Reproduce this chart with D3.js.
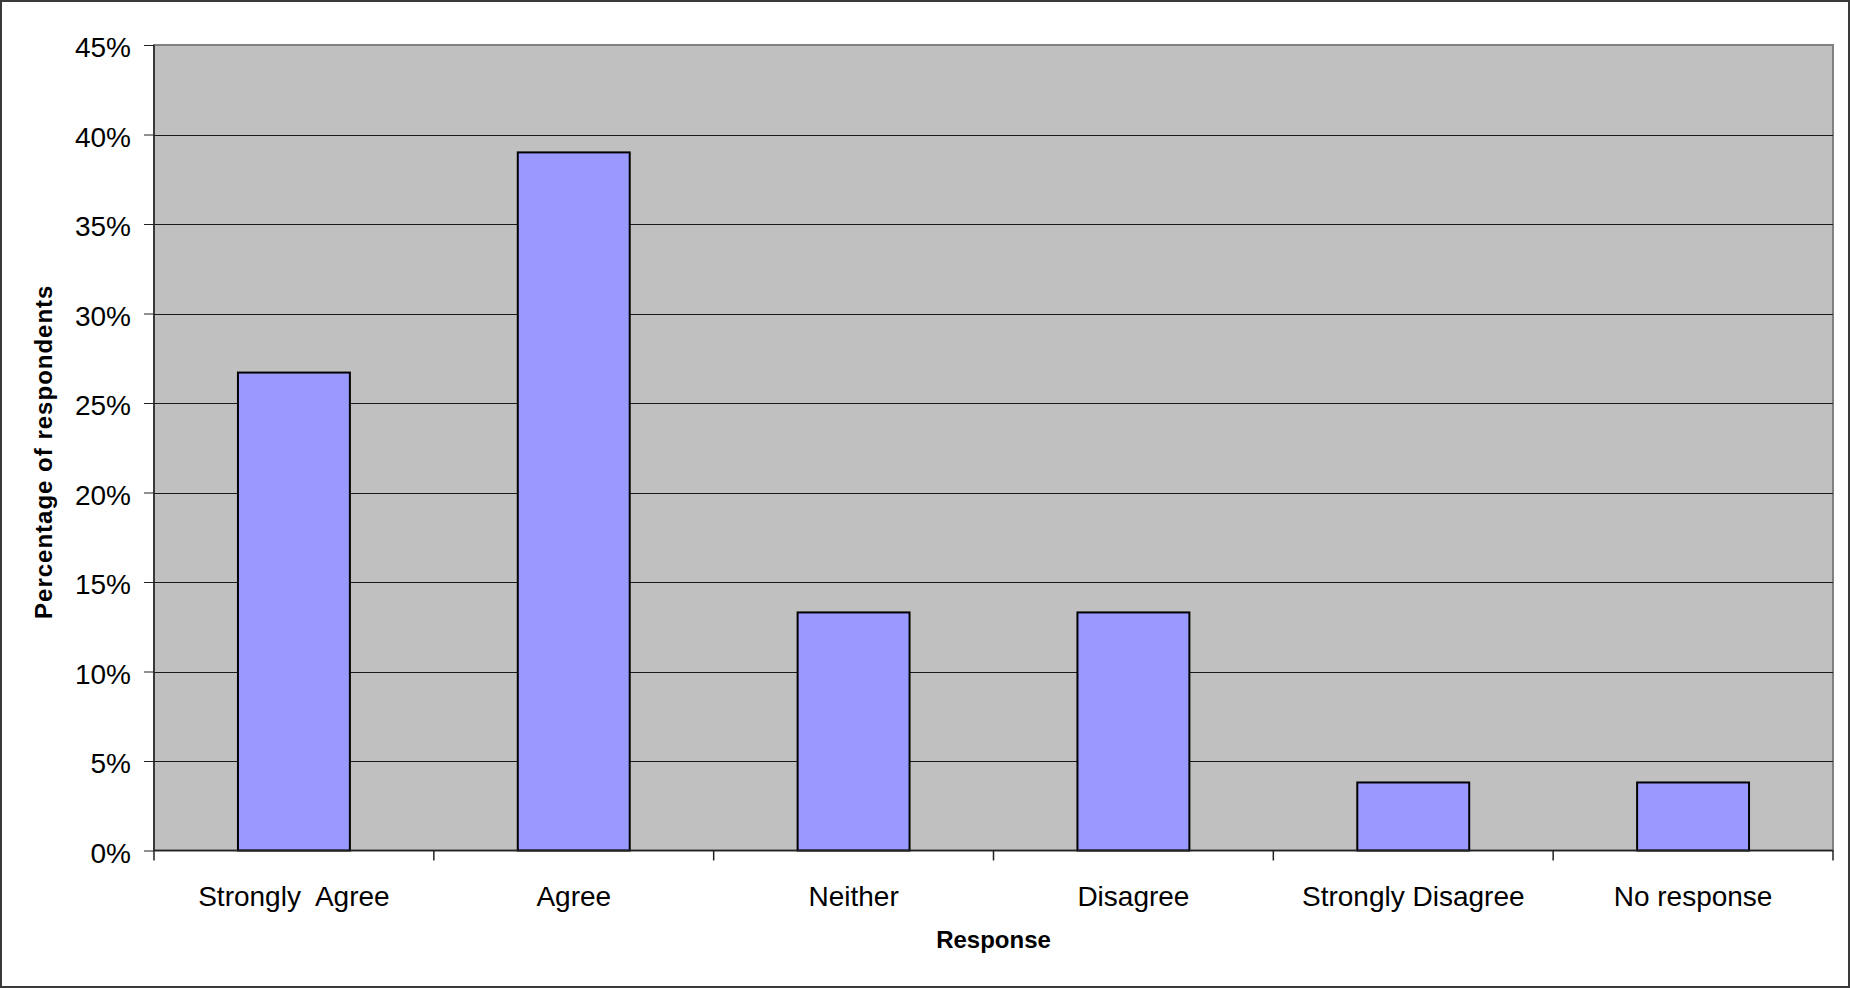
<!DOCTYPE html>
<html>
<head>
<meta charset="utf-8">
<script src="https://cdn.jsdelivr.net/npm/d3@7"></script>
<style>
  html, body { margin: 0; padding: 0; background: #fff; }
  svg { display: block; }
  text { font-family: "Liberation Sans", Arial, sans-serif; fill: #000; }
</style>
</head>
<body>
<svg id="chart" width="1850" height="988"></svg>
<script>
const categories = ["Strongly  Agree", "Agree", "Neither", "Disagree", "Strongly Disagree", "No response"];
const values = [26.7, 39.0, 13.3, 13.3, 3.8, 3.8];
const yTicks = [0, 5, 10, 15, 20, 25, 30, 35, 40, 45];
const xTitle = "Response";
const yTitle = "Percentage of respondents";

const W = 1850, H = 988;
const m = { left: 154, top: 45, right: 1833, bottom: 850.5 };
const svg = d3.select("#chart");

// outer border
svg.append("rect").attr("x", 1).attr("y", 1).attr("width", W - 2).attr("height", H - 2)
  .attr("fill", "#fff").attr("stroke", "#3a3a3a").attr("stroke-width", 2);

const x = d3.scaleBand().domain(categories).range([m.left, m.right]).paddingInner(0.6).paddingOuter(0.3);
const xb = d3.scaleBand().domain(categories).range([m.left, m.right]);
const y = d3.scaleLinear().domain([0, 45]).range([m.bottom, m.top]);

// plot background
svg.append("rect").attr("x", m.left).attr("y", m.top)
  .attr("width", m.right - m.left).attr("height", m.bottom - m.top)
  .attr("fill", "#c0c0c0").attr("stroke", "#808080").attr("stroke-width", 2);

// gridlines
svg.append("g").selectAll("line").data(yTicks.filter(d => d > 0 && d < 45)).join("line")
  .attr("x1", m.left).attr("x2", m.right)
  .attr("y1", d => Math.round(y(d)) + 0.5).attr("y2", d => Math.round(y(d)) + 0.5)
  .attr("stroke", "#1a1a1a").attr("stroke-width", 1);

// bars
svg.append("g").selectAll("rect").data(values).join("rect")
  .attr("x", (d, i) => x(categories[i]))
  .attr("width", x.bandwidth())
  .attr("y", d => y(d))
  .attr("height", d => y(0) - y(d))
  .attr("fill", "#9999ff").attr("stroke", "#000").attr("stroke-width", 2);

// y axis
const yAxis = d3.axisLeft(y).tickValues(yTicks).tickFormat(d => d + "%").tickSize(10).tickPadding(13);
const gy = svg.append("g").attr("transform", `translate(${m.left},0)`).call(yAxis);
gy.select(".domain").attr("stroke", "#222").attr("stroke-width", 1.5).attr("d", `M0,${m.top}V${m.bottom}`);
gy.selectAll(".tick line").attr("stroke", "#222");
gy.selectAll(".tick text").attr("font-size", 28).attr("dy", "0.42em")
  .style("font-family", '"Liberation Sans", Arial, sans-serif').attr("fill", "#000");

// x axis (ticks at category boundaries)
const bounds = categories.map(c => xb(c)).concat([m.right]);
const gx = svg.append("g");
gx.append("line").attr("x1", m.left).attr("x2", m.right).attr("y1", m.bottom).attr("y2", m.bottom)
  .attr("stroke", "#222").attr("stroke-width", 1.5);
gx.selectAll(".bt").data(bounds).join("line").attr("class", "bt")
  .attr("x1", d => d).attr("x2", d => d).attr("y1", m.bottom).attr("y2", m.bottom + 10)
  .attr("stroke", "#222").attr("stroke-width", 1.5);
gx.selectAll("text").data(categories).join("text")
  .attr("x", d => xb(d) + xb.bandwidth() / 2)
  .attr("y", 906)
  .attr("text-anchor", "middle").attr("font-size", 28)
  .style("white-space", "pre").attr("xml:space", "preserve")
  .text(d => d);

// axis titles
svg.append("text").attr("x", (m.left + m.right) / 2).attr("y", 948)
  .attr("text-anchor", "middle").attr("font-size", 24).attr("font-weight", "bold").text(xTitle);
svg.append("text").attr("transform", `translate(52,${(m.top + m.bottom) / 2 + 4}) rotate(-90)`)
  .attr("text-anchor", "middle").attr("font-size", 24).attr("font-weight", "bold")
  .attr("letter-spacing", 1).text(yTitle);
</script>
</body>
</html>
